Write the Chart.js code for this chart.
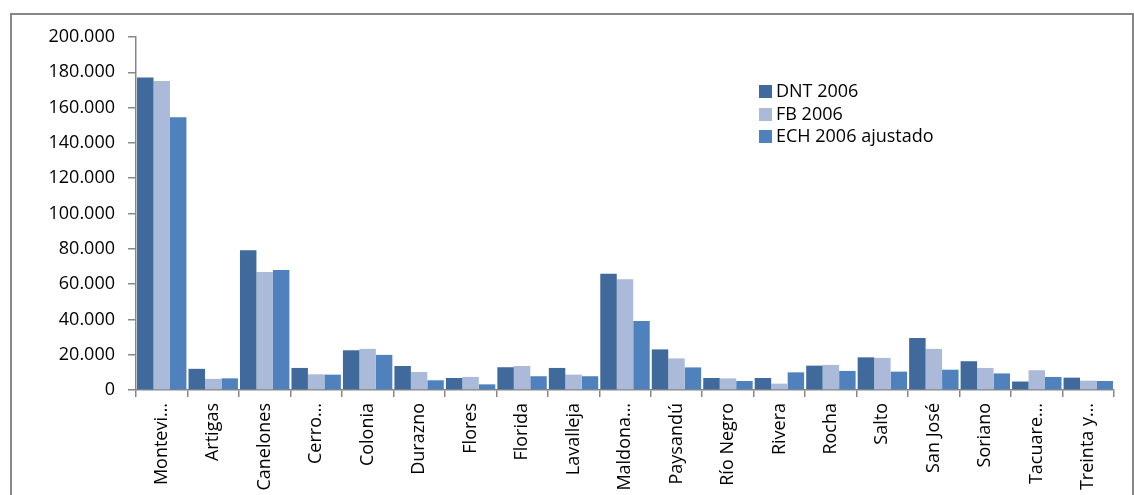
<!DOCTYPE html>
<html lang="es">
<head>
<meta charset="UTF-8">
<title>Departamentos 2006</title>
<script src="https://cdn.jsdelivr.net/npm/chart.js"></script>
<style>
  html, body { margin: 0; padding: 0; background: #fff; overflow: hidden; }
  #wrap { position: relative; width: 1134px; height: 495px; }
  #frame { position: absolute; left: 10px; top: 13px; width: 1124px; height: 500px; border: 2px solid #878787; box-sizing: border-box; }
  #chart { position: absolute; left: 0; top: 0; }
  #legend { position: absolute; left: 759px; top: 79px; font-family: "Open Sans", sans-serif; font-size: 18px; color: #000; }
  #legend div { height: 22.5px; line-height: 22.5px; white-space: nowrap; }
  #legend span { display: inline-block; width: 13px; height: 13px; margin-right: 4px; vertical-align: -1px; }
</style>
</head>
<body>
<div id="wrap">
  <div id="frame"></div>
  <canvas id="chart" width="1134" height="495"></canvas>
  <div id="legend"></div>
</div>
<script>
const departamentos = ['Montevi…', 'Artigas', 'Canelones', 'Cerro…', 'Colonia', 'Durazno', 'Flores', 'Florida', 'Lavalleja', 'Maldona…',
  'Paysandú', 'Río Negro', 'Rivera', 'Rocha', 'Salto', 'San José', 'Soriano', 'Tacuare…', 'Treinta y…'];
const dnt2006 = [177000, 12000, 79200, 12500, 22500, 13600, 6800, 12900, 12500, 65900,
  23000, 6800, 6800, 13800, 18500, 29500, 16300, 4800, 7000];
const fb2006 = [175100, 6300, 66900, 8900, 23300, 10200, 7400, 13600, 8700, 62700,
  17900, 6600, 3600, 14200, 18200, 23300, 12500, 11200, 5300];
const ech2006 = [154500, 6600, 68000, 8700, 19900, 5500, 3200, 7800, 7800, 39100,
  12800, 5100, 10000, 10800, 10400, 11500, 9400, 7400, 5100];
const serieNombres = ['DNT 2006', 'FB 2006', 'ECH 2006 ajustado'];
const serieColores = ['#40699c', '#aabad8', '#4f81bd'];

const fuente = { family: "'Open Sans', sans-serif", size: 18 };
const gris = '#878787';

function miles(v) {
  return String(v).replace(/\B(?=(\d{3})+(?!\d))/g, '.');
}

const valores = [dnt2006, fb2006, ech2006];
const datasets = valores.map((d, i) => ({
  label: serieNombres[i],
  data: d,
  backgroundColor: serieColores[i],
  borderWidth: 0,
  categoryPercentage: 0.96,
  barPercentage: 1
}));

new Chart(document.getElementById('chart'), {
  type: 'bar',
  data: { labels: departamentos, datasets: datasets },
  options: {
    responsive: false,
    animation: false,
    layout: { padding: { top: 37, right: 20, left: 0, bottom: 0 } },
    plugins: { legend: { display: false }, tooltip: { enabled: false } },
    scales: {
      x: {
        grid: { drawOnChartArea: false, drawTicks: true, tickLength: 7, color: gris, lineWidth: 1.5, offset: true },
        border: { color: gris, width: 1.5 },
        ticks: { color: '#000', font: fuente, minRotation: 90, maxRotation: 90, autoSkip: false, padding: 6 },
        afterFit: s => { s.height = 105; }
      },
      y: {
        min: 0,
        max: 200000,
        grid: { drawOnChartArea: false, drawTicks: true, tickLength: 8, color: gris, lineWidth: 1.5 },
        border: { color: gris, width: 1.5 },
        ticks: { stepSize: 20000, color: '#000', font: fuente, padding: 13, callback: v => miles(v) },
        afterFit: s => { s.width = 136; }
      }
    }
  }
});

// leyenda
const leyenda = document.getElementById('legend');
serieNombres.forEach((n, i) => {
  const fila = document.createElement('div');
  fila.innerHTML = '<span style="background:' + serieColores[i] + '"></span>' + n;
  leyenda.appendChild(fila);
});
</script>
</body>
</html>
